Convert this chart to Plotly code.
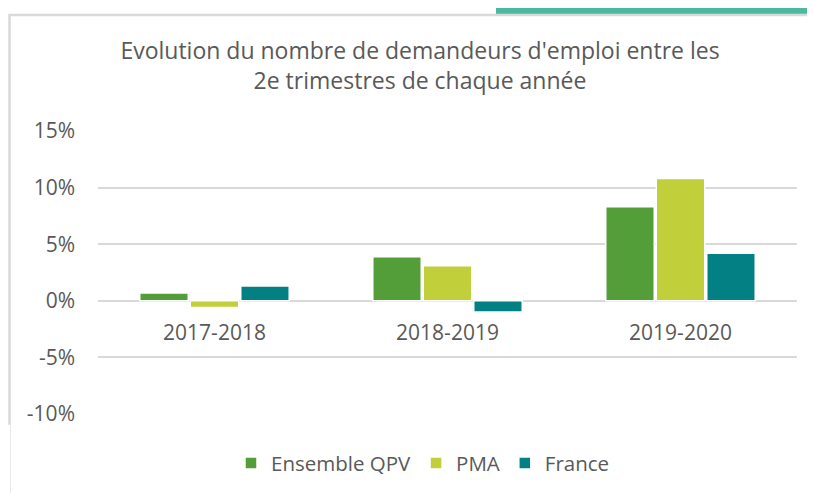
import plotly.graph_objects as go

# Données (en %)
periodes = ["2017-2018", "2018-2019", "2019-2020"]
ensemble_qpv = [0.7, 3.9, 8.3]
pma = [-0.6, 3.1, 10.8]
france = [1.3, -1.0, 4.2]

y_ticks = [-10, -5, 0, 5, 10, 15]
y_labels = ["-10%", "-5%", "0%", "5%", "10%", "15%"]

series = [
    ("Ensemble QPV", ensemble_qpv, "#549E39"),
    ("PMA", pma, "#C0CF3A"),
    ("France", france, "#028083"),
]

# la page a une marge de 8 px : on décale tout de 8 px
OFF = 8
W, H = 815 - 2 * OFF, 501 - 2 * OFF
L, R, T, B = 98 - OFF, 10, 131 - OFF, 485 - (419 - OFF)
TXT = "#595959"
FONT = "Open Sans"


def px_x(px):
    # px = coordonnée écran souhaitée
    return (px - OFF - L) / (W - L - R)


def px_y(py):
    return (H - B - (py - OFF)) / (H - T - B)


fig = go.Figure()
for name, vals, color in series:
    fig.add_trace(go.Bar(
        x=periodes, y=vals, name=name,
        marker=dict(color=color, line=dict(color="white", width=1.5)),
    ))

fig.update_layout(
    width=W, height=H,
    margin=dict(l=L, r=R, t=T, b=B),
    paper_bgcolor="white", plot_bgcolor="white",
    font=dict(family=FONT, color=TXT, size=21),
    title=dict(
        text="Evolution du nombre de demandeurs d'emploi entre les<br>2e trimestres de chaque année",
        x=(420 - OFF) / W, xanchor="center", y=1 - (59 - OFF) / H, yanchor="middle",
        font=dict(family=FONT, size=23, color=TXT),
    ),
    barmode="group", bargap=0.35, bargroupgap=0.04,
    legend=dict(
        orientation="h", x=px_x(423), xanchor="center", y=px_y(469), yanchor="middle",
        font=dict(family=FONT, size=20.5, color=TXT),
        itemwidth=30, tracegroupgap=0,
    ),
    showlegend=True,
)

fig.update_yaxes(
    range=[-10, 15], tickvals=y_ticks, ticktext=y_labels,
    showgrid=True, gridcolor="#D9D9D9", gridwidth=1.5,
    zeroline=False, showline=False, ticks="",
    ticklabelstandoff=22,
)
fig.update_xaxes(
    anchor="free", position=0.4, showline=False, ticks="",
    showgrid=False, ticklabelstandoff=17,
)

# Cadre et bandeau
fig.add_shape(type="rect", xref="paper", yref="paper",
              x0=px_x(496), x1=px_x(820), y0=px_y(-5), y1=px_y(12),
              fillcolor="#4DB8A0", line=dict(width=0), layer="below")
fig.add_shape(type="line", xref="paper", yref="paper",
              x0=px_x(9), x1=px_x(820), y0=px_y(13), y1=px_y(13),
              line=dict(color="#D9D9D9", width=2.5))
fig.add_shape(type="line", xref="paper", yref="paper",
              x0=px_x(9.5), x1=px_x(9.5), y0=px_y(12), y1=px_y(430),
              line=dict(color="#D9D9D9", width=2.5))
fig.add_shape(type="line", xref="paper", yref="paper",
              x0=px_x(10.5), x1=px_x(10.5), y0=px_y(430), y1=px_y(501),
              line=dict(color="#E8E8E8", width=1))

fig.write_html("out.html")
